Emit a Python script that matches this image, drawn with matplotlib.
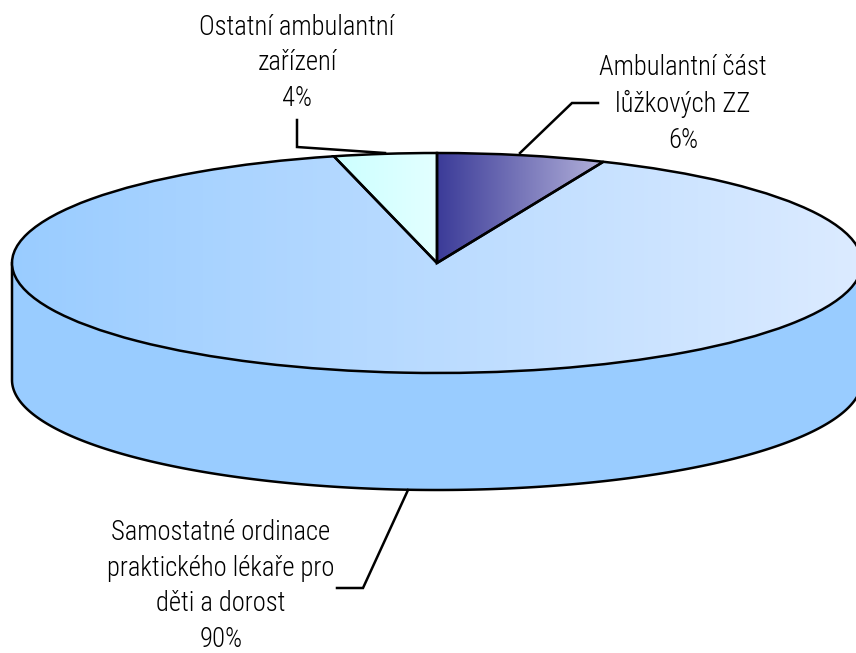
import numpy as np
import matplotlib
matplotlib.use('Agg')
import matplotlib.pyplot as plt
from matplotlib.colors import LinearSegmentedColormap
from matplotlib.transforms import Affine2D

names = ['Ambulantní část\nlůžkových ZZ',
         'Samostatné ordinace\npraktického lékaře pro\nděti a dorost',
         'Ostatní ambulantní\nzařízení']
values = [6.4, 89.7, 3.9]
grad_left = ['#3B3B98', '#99CCFF', '#CCFFFF']
grad_right = ['#B3B1DA', '#DCEBFF', '#E3FFFF']

W, H = 856, 653
cx, cy = 437, H - 263
rx, ry, depth = 425, 110, 117
lw = 1.8

plt.rcParams['font.family'] = ['Roboto Condensed', 'Liberation Sans', 'DejaVu Sans']

fig = plt.figure(figsize=(W / 100, H / 100), dpi=100)
ax = fig.add_axes([0, 0, 1, 1])

# pie drawn as a circle, then squashed into the tilted ellipse
wedges, _ = ax.pie(values, startangle=90, counterclock=False, center=(cx, cy), radius=rx,
                   wedgeprops=dict(facecolor='none', edgecolor='black', linewidth=lw, zorder=5))
squash = Affine2D().translate(0, -cy).scale(1, ry / rx).translate(0, cy) + ax.transData
for w in wedges:
    w.set_transform(squash)

# side wall of the disc
t = np.linspace(np.pi, 2 * np.pi, 300)
wall_x = np.concatenate([[cx - rx], cx + rx * np.cos(t), [cx + rx]])
wall_y = np.concatenate([[cy], cy - depth + ry * np.sin(t), [cy]])
ax.fill(wall_x, wall_y, facecolor='#99CCFF', edgecolor='black', linewidth=lw, zorder=1)

# horizontal gradient on every slice, clipped to its wedge
for w, c0, c1 in zip(wedges, grad_left, grad_right):
    xs = w.get_path().vertices[:, 0]
    cmap = LinearSegmentedColormap.from_list('g', [c0, c1])
    im = ax.imshow(np.linspace(0, 1, 256).reshape(1, -1), cmap=cmap, aspect='auto',
                   extent=(xs.min(), xs.max(), cy - ry - 2, cy + ry + 2), zorder=3)
    im.set_clip_path(w)

# leader lines
ax.plot([297, 297, 385], [H - 120, H - 147, H - 153], color='black', lw=lw, zorder=6, solid_joinstyle='miter')
ax.plot([598, 572, 520], [H - 103, H - 103, H - 153], color='black', lw=lw, zorder=6, solid_joinstyle='miter')
ax.plot([408, 363, 337], [H - 490, H - 588, H - 588], color='black', lw=lw, zorder=6, solid_joinstyle='miter')

# labels
label_pos = [(683, 104), (221, 586), (297, 63)]
for name, val, (lx, ly) in zip(names, values, label_pos):
    ax.text(lx, H - ly, f'{name}\n{val:.0f}%', ha='center', va='center', fontsize=19.2,
            fontweight=300, color='black', linespacing=1.42, zorder=7)

ax.set_aspect('auto')
ax.set_xlim(0, W)
ax.set_ylim(0, H)
ax.axis('off')

fig.savefig('out.png', dpi=100, facecolor='white')
